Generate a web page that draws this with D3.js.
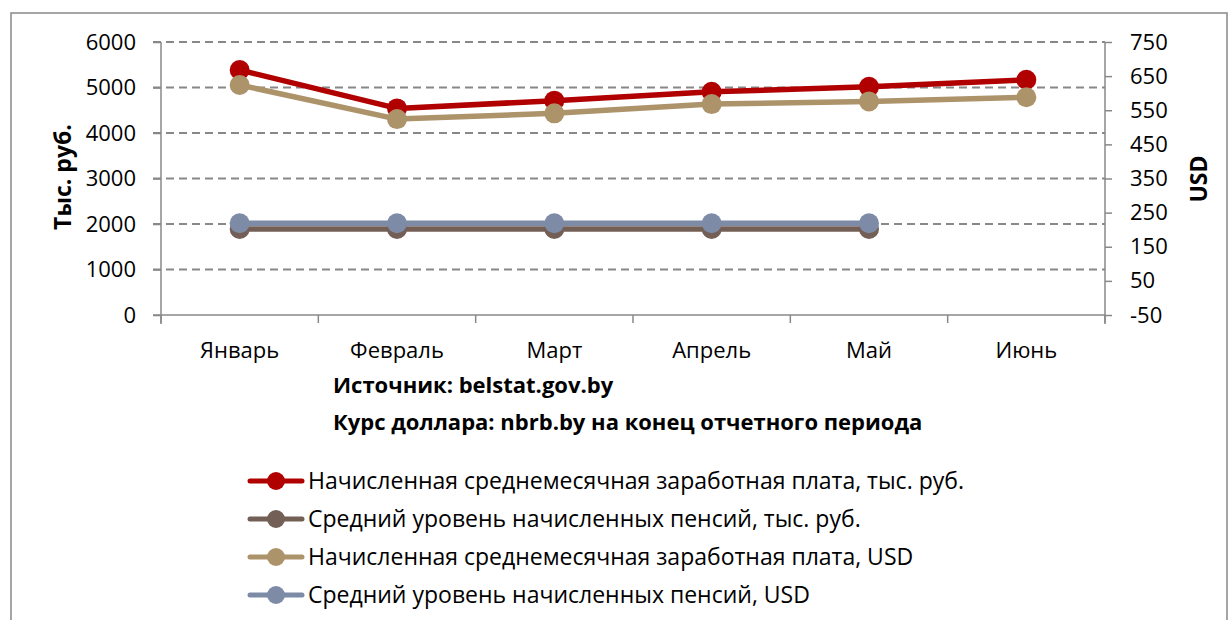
<!DOCTYPE html>
<html>
<head>
<meta charset="utf-8">
<script src="https://cdn.jsdelivr.net/npm/d3@7"></script>
<style>
  body { margin: 0; background: #fff; }
  text { font-family: "Open Sans", sans-serif; fill: #000; }
</style>
</head>
<body>
<svg id="chart" width="1229" height="620"></svg>
<script>
// data
var months = ['Январь', 'Февраль', 'Март', 'Апрель', 'Май', 'Июнь'];
var salaryRub = [5385, 4540, 4710, 4905, 5015, 5170];
var pensionRub = [1890, 1890, 1890, 1890, 1890];
var salaryUsd = [624, 524, 541, 568, 576, 588];
var pensionUsd = [219, 219, 219, 219, 219];
var leftTicks = [0, 1000, 2000, 3000, 4000, 5000, 6000];
var rightTicks = [-50, 50, 150, 250, 350, 450, 550, 650, 750];

var series = [
  { name: 'Начисленная среднемесячная заработная плата, тыс. руб.', values: salaryRub, axis: 'left', color: '#b00000' },
  { name: 'Средний уровень начисленных пенсий, тыс. руб.', values: pensionRub, axis: 'left', color: '#735f55' },
  { name: 'Начисленная среднемесячная заработная плата, USD', values: salaryUsd, axis: 'right', color: '#ad936a' },
  { name: 'Средний уровень начисленных пенсий, USD', values: pensionUsd, axis: 'right', color: '#7d8ba7' }
];

var svg = d3.select('#chart');
var pLeft = 161, pRight = 1105, pTop = 42, pBottom = 315;
var grey = '#888888';

// outer frame
svg.append('rect')
    .attr('x', 11).attr('y', 13)
    .attr('width', 1216).attr('height', 640)
    .attr('fill', 'none')
    .attr('stroke', grey)
    .attr('stroke-width', 1.5);

var x = d3.scaleBand().domain(months).range([pLeft, pRight]);
var yL = d3.scaleLinear().domain([0, 6000]).range([pBottom, pTop]);
var yR = d3.scaleLinear().domain([-50, 750]).range([pBottom, pTop]);

// dashed grid
svg.append('g')
  .selectAll('line')
  .data(leftTicks.slice(1))
  .join('line')
    .attr('x1', pLeft - 8).attr('x2', pRight)
    .attr('y1', function (d) { return yL(d); })
    .attr('y2', function (d) { return yL(d); })
    .attr('stroke', grey)
    .attr('stroke-width', 2)
    .attr('stroke-dasharray', '8,5');

var fs = '22px';
var plain = function (d) { return String(d); };

// left axis
var gL = svg.append('g')
    .attr('transform', 'translate(' + pLeft + ',0)')
    .call(d3.axisLeft(yL).tickValues(leftTicks).tickSize(8).tickPadding(17).tickFormat(plain));
// right axis
var gR = svg.append('g')
    .attr('transform', 'translate(' + pRight + ',0)')
    .call(d3.axisRight(yR).tickValues(rightTicks).tickSize(7).tickPadding(18).tickFormat(plain));
// category axis
var gX = svg.append('g')
    .attr('transform', 'translate(0,' + pBottom + ')')
    .call(d3.axisBottom(x).tickSize(0).tickPadding(27));

gX.selectAll('.tick')
  .append('line')
    .attr('x1', -x.bandwidth() / 2).attr('x2', -x.bandwidth() / 2)
    .attr('y1', 0).attr('y2', 8)
    .attr('stroke', grey).attr('stroke-width', 1.5);
gX.append('line')
    .attr('x1', pRight).attr('x2', pRight).attr('y1', 0).attr('y2', 8)
    .attr('stroke', grey).attr('stroke-width', 1.5);

[gL, gR, gX].forEach(function (g) {
  g.select('.domain').attr('stroke', grey).attr('stroke-width', 1.5);
  g.selectAll('.tick line').attr('stroke', grey).attr('stroke-width', 1.5);
  g.selectAll('text').style('font-size', fs).attr('font-family', null).attr('fill', '#000');
});
gX.select('.domain').attr('d', 'M' + (pLeft - 8) + ',0H' + pRight);
gL.select('.domain').attr('d', 'M0,' + pTop + 'V' + (pBottom + 9));
gR.select('.domain').attr('d', 'M0,' + pTop + 'V' + (pBottom + 9));

// axis titles
svg.append('text')
    .attr('transform', 'translate(71,177) rotate(-90)')
    .attr('text-anchor', 'middle')
    .style('font-size', '23px').style('font-weight', 'bold')
    .text('Тыс. руб.');
svg.append('text')
    .attr('transform', 'translate(1207,179) rotate(-90)')
    .attr('text-anchor', 'middle')
    .style('font-size', '23px').style('font-weight', 'bold')
    .text('USD');

// lines and markers
var cx = function (d, i) { return x(months[i]) + x.bandwidth() / 2; };
series.forEach(function (s) {
  var y = s.axis === 'left' ? yL : yR;
  var line = d3.line().x(cx).y(function (d) { return y(d); });
  var g = svg.append('g');
  g.append('path')
      .datum(s.values)
      .attr('d', line)
      .attr('fill', 'none')
      .attr('stroke', s.color)
      .attr('stroke-width', 5.5)
      .attr('stroke-linejoin', 'round');
  g.selectAll('circle')
    .data(s.values)
    .join('circle')
      .attr('cx', cx)
      .attr('cy', function (d) { return y(d); })
      .attr('r', 10)
      .attr('fill', s.color);
});

// source notes
svg.append('text').attr('x', 333).attr('y', 393)
    .style('font-size', fs).style('font-weight', 'bold')
    .text('Источник: belstat.gov.by');
svg.append('text').attr('x', 333).attr('y', 430)
    .style('font-size', fs).style('font-weight', 'bold')
    .text('Курс доллара: nbrb.by на конец отчетного периода');

// legend
var leg = svg.append('g')
  .selectAll('g')
  .data(series)
  .join('g')
    .attr('transform', function (d, i) { return 'translate(250,' + (481 + i * 38) + ')'; });
leg.append('line')
    .attr('x1', 0).attr('x2', 52)
    .attr('stroke', function (d) { return d.color; })
    .attr('stroke-width', 5)
    .attr('stroke-linecap', 'round');
leg.append('circle')
    .attr('cx', 26).attr('r', 9)
    .attr('fill', function (d) { return d.color; });
leg.append('text')
    .attr('x', 58).attr('dy', '0.35em')
    .style('font-size', '23px')
    .text(function (d) { return d.name; });
</script>
</body>
</html>
